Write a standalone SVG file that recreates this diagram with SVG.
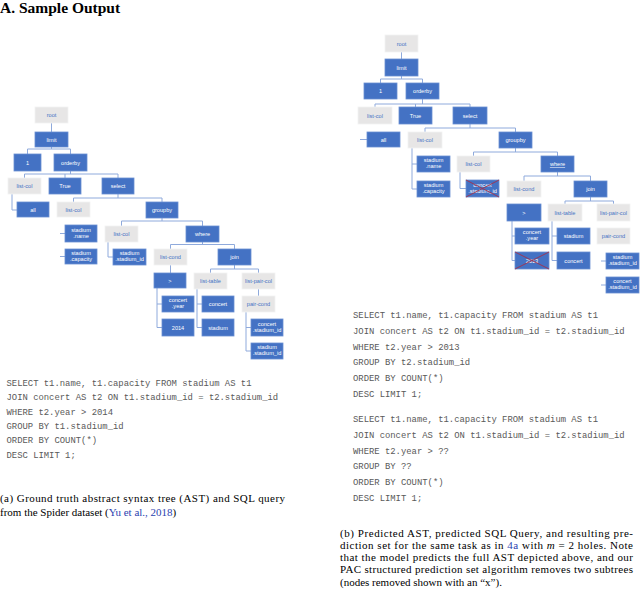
<svg xmlns="http://www.w3.org/2000/svg" width="640" height="589" viewBox="0 0 640 589">
<style>
.b{fill:#4472C4;stroke:#6A8FD3;stroke-width:0.8}
.g{fill:#E7E6E6;stroke:#F2F2F2;stroke-width:0.8}
.t{font-family:"Liberation Sans","DejaVu Sans",sans-serif;font-size:5.6px;text-anchor:middle}
.b+.t,.tw{fill:#FFFFFF}
.tg{fill:#4472C4}
.c{fill:none;stroke:#8FAADC;stroke-width:1}
.x{stroke:#A5324B;stroke-width:0.9;fill:none}
.sql{font-family:"Liberation Mono","DejaVu Sans Mono",monospace;font-size:8.9px;fill:#595959}
.cap{font-family:"Liberation Serif","Times New Roman",serif;font-size:11px;fill:#000}
.lnk{fill:#2B3FB0}
</style>
<rect width="640" height="589" fill="#FFFFFF"/>
<text x="0" y="13" font-family="Liberation Serif, serif" font-weight="bold" font-size="15.5" fill="#000">A. Sample Output</text>

<!-- LEFT TREE connectors -->
<g id="left-connectors">
<path class="c" d="M51.5,123V132"/>
<path class="c" d="M51.5,147V149M27.5,154V149H70.5V154"/>
<path class="c" d="M70.5,171V174M24.5,178V174H118V178M65,174V178"/>
<path class="c" d="M12,194V210H17"/>
<path class="c" d="M118,194V198M73.5,202V198H162V202"/>
<path class="c" d="M60,233.5H65M60,256.5H65"/>
<path class="c" d="M162,218V221M121.5,226V221H202.5V226"/>
<path class="c" d="M108,242V257H113"/>
<path class="c" d="M202.5,242V244.5M170.5,249V244.5H234.5V249"/>
<path class="c" d="M170.5,265V273"/>
<path class="c" d="M234.5,265V269M210.5,273V269H258.5V273"/>
<path class="c" d="M157,288V327.5M157,304H162M157,327.5H162"/>
<path class="c" d="M197,289V327.5M197,304H202M197,327.5H202"/>
<path class="c" d="M258.5,289V296"/>
<path class="c" d="M246,312V351M246,327.5H251M246,351H251"/>
</g>

<!-- LEFT TREE nodes -->
<g id="L_root"><rect class="g" x="35" y="107" width="33" height="16"/><text class="t tg" x="51.5" y="117">root</text></g>
<g id="L_limit"><rect class="b" x="35" y="132" width="33" height="15"/><text class="t tw" x="51.5" y="141.5">limit</text></g>
<g id="L_1"><rect class="b" x="14" y="154" width="27" height="17"/><text class="t tw" x="27.5" y="164.5">1</text></g>
<g id="L_orderby"><rect class="b" x="54" y="154" width="33" height="17"/><text class="t tw" x="70.5" y="164.5">orderby</text></g>
<g id="L_listcol1"><rect class="g" x="8" y="178" width="33" height="16"/><text class="t tg" x="24.5" y="188">list-col</text></g>
<g id="L_true"><rect class="b" x="49" y="178" width="32" height="16"/><text class="t tw" x="65" y="188">True</text></g>
<g id="L_select"><rect class="b" x="102" y="178" width="32" height="16"/><text class="t tw" x="118" y="188">select</text></g>
<g id="L_all"><rect class="b" x="17" y="202" width="32" height="15"/><text class="t tw" x="33" y="211.5">all</text></g>
<g id="L_listcol2"><rect class="g" x="57" y="202" width="33" height="15"/><text class="t tg" x="73.5" y="211.5">list-col</text></g>
<g id="L_groupby"><rect class="b" x="146" y="202" width="32" height="16"/><text class="t tw" x="162" y="212">groupby</text></g>
<g id="L_sname"><rect class="b" x="65" y="225" width="32" height="17"/><text class="t tw" x="81" y="231.5">stadium<tspan x="81" dy="6.3">.name</tspan></text></g>
<g id="L_scap"><rect class="b" x="65" y="249" width="32" height="15"/><text class="t tw" x="81" y="254.5">stadium<tspan x="81" dy="6.3">.capacity</tspan></text></g>
<g id="L_listcol3"><rect class="g" x="105" y="226" width="33" height="16"/><text class="t tg" x="121.5" y="236">list-col</text></g>
<g id="L_where"><rect class="b" x="186" y="226" width="33" height="16"/><text class="t tw" x="202.5" y="236">where</text></g>
<g id="L_ssid"><rect class="b" x="113" y="249" width="33" height="16"/><text class="t tw" x="129.5" y="255">stadium<tspan x="129.5" dy="6.3">.stadium_id</tspan></text></g>
<g id="L_listcond"><rect class="g" x="154" y="249" width="33" height="16"/><text class="t tg" x="170.5" y="259">list-cond</text></g>
<g id="L_join"><rect class="b" x="218" y="249" width="33" height="16"/><text class="t tw" x="234.5" y="259">join</text></g>
<g id="L_gt"><rect class="b" x="154" y="273" width="32" height="15"/><text class="t tw" x="170" y="282.5">&gt;</text></g>
<g id="L_listtable"><rect class="g" x="194" y="273" width="33" height="16"/><text class="t tg" x="210.5" y="283">list-table</text></g>
<g id="L_listpaircol"><rect class="g" x="242" y="273" width="33" height="16"/><text class="t tg" x="258.5" y="283">list-pair-col</text></g>
<g id="L_cyear"><rect class="b" x="162" y="296" width="32" height="16"/><text class="t tw" x="178" y="302">concert<tspan x="178" dy="6.3">.year</tspan></text></g>
<g id="L_2014"><rect class="b" x="162" y="319" width="32" height="17"/><text class="t tw" x="178" y="329.5">2014</text></g>
<g id="L_concert"><rect class="b" x="202" y="296" width="32" height="16"/><text class="t tw" x="218" y="306">concert</text></g>
<g id="L_stadium"><rect class="b" x="202" y="319" width="32" height="17"/><text class="t tw" x="218" y="329.5">stadium</text></g>
<g id="L_paircond"><rect class="g" x="242" y="296" width="33" height="16"/><text class="t tg" x="258.5" y="306">pair-cond</text></g>
<g id="L_csid"><rect class="b" x="251" y="319" width="32" height="17"/><text class="t tw" x="267" y="325.5">concert<tspan x="267" dy="6.3">.stadium_id</tspan></text></g>
<g id="L_ssid2"><rect class="b" x="251" y="343" width="32" height="16"/><text class="t tw" x="267" y="349">stadium<tspan x="267" dy="6.3">.stadium_id</tspan></text></g>

<!-- RIGHT TREE connectors -->
<g id="right-connectors">
<path class="c" d="M401.5,52V59"/>
<path class="c" d="M401.5,76V79M380.5,83V79H422.5V83"/>
<path class="c" d="M422.5,99V104M375,107V104H470V107M415.5,104V107"/>
<path class="c" d="M360,139.5H367"/>
<path class="c" d="M470,124V128M425,132V128H515.5V132"/>
<path class="c" d="M412,148V189H417M412,164H417"/>
<path class="c" d="M515.5,148V152M473.5,156V152H557.5V156"/>
<path class="c" d="M460,172V188.5H466"/>
<path class="c" d="M557.5,172V176M524,181V176H590.5V181"/>
<path class="c" d="M590.5,197V201M565,204V201H613.5V204"/>
<path class="c" d="M512,221V260.5M512,236H515M512,260.5H515"/>
<path class="c" d="M552,221V260.5M552,236H557M552,260.5H557"/>
<path class="c" d="M601,261H606M601,285H606"/>
</g>

<!-- RIGHT TREE nodes -->
<g id="R_root"><rect class="g" x="385" y="35" width="33" height="17"/><text class="t tg" x="401.5" y="45.5">root</text></g>
<g id="R_limit"><rect class="b" x="385" y="59" width="33" height="17"/><text class="t tw" x="401.5" y="69.5">limit</text></g>
<g id="R_1"><rect class="b" x="364" y="83" width="33" height="16"/><text class="t tw" x="380.5" y="93">1</text></g>
<g id="R_orderby"><rect class="b" x="406" y="83" width="33" height="16"/><text class="t tw" x="422.5" y="93">orderby</text></g>
<g id="R_listcol1"><rect class="g" x="358" y="107" width="34" height="17"/><text class="t tg" x="375" y="117.5">list-col</text></g>
<g id="R_true"><rect class="b" x="399" y="107" width="33" height="17"/><text class="t tw" x="415.5" y="117.5">True</text></g>
<g id="R_select"><rect class="b" x="453" y="107" width="34" height="17"/><text class="t tw" x="470" y="117.5">select</text></g>
<g id="R_all"><rect class="b" x="367" y="132" width="33" height="15"/><text class="t tw" x="383.5" y="141.5">all</text></g>
<g id="R_listcol2"><rect class="g" x="408" y="132" width="34" height="16"/><text class="t tg" x="425" y="142">list-col</text></g>
<g id="R_groupby"><rect class="b" x="499" y="132" width="33" height="16"/><text class="t tw" x="515.5" y="142">groupby</text></g>
<g id="R_sname"><rect class="b" x="417" y="156" width="33" height="16"/><text class="t tw" x="433.5" y="162">stadium<tspan x="433.5" dy="6.3">.name</tspan></text></g>
<g id="R_scap"><rect class="b" x="417" y="181" width="33" height="16"/><text class="t tw" x="433.5" y="187">stadium<tspan x="433.5" dy="6.3">.capacity</tspan></text></g>
<g id="R_listcol3"><rect class="g" x="457" y="156" width="33" height="16"/><text class="t tg" x="473.5" y="166">list-col</text></g>
<g id="R_where"><rect class="b" x="541" y="156" width="33" height="16"/><text class="t tw" x="557.5" y="166" text-decoration="underline">where</text></g>
<g id="R_csid_x"><rect class="b" x="466" y="180" width="33" height="17"/><text class="t tw" x="482.5" y="186.5">concert<tspan x="482.5" dy="6.3">.stadium_id</tspan></text><path class="x" d="M466,180L499,197M499,180L466,197"/></g>
<g id="R_listcond"><rect class="g" x="507" y="181" width="34" height="16"/><text class="t tg" x="524" y="191">list-cond</text></g>
<g id="R_join"><rect class="b" x="574" y="181" width="33" height="16"/><text class="t tw" x="590.5" y="191">join</text></g>
<g id="R_gt"><rect class="b" x="507" y="204" width="34" height="17"/><text class="t tw" x="524" y="214.5">&gt;</text></g>
<g id="R_listtable"><rect class="g" x="548" y="204" width="34" height="17"/><text class="t tg" x="565" y="214.5">list-table</text></g>
<g id="R_listpaircol"><rect class="g" x="597" y="204" width="33" height="17"/><text class="t tg" x="613.5" y="214.5">list-pair-col</text></g>
<g id="R_cyear"><rect class="b" x="515" y="228" width="34" height="16"/><text class="t tw" x="532" y="234">concert<tspan x="532" dy="6.3">.year</tspan></text></g>
<g id="R_2013"><rect class="b" x="515" y="252" width="34" height="17"/><text class="t tw" x="532" y="262.5">2013</text><path class="x" d="M515,252L549,269M549,252L515,269"/></g>
<g id="R_stadium"><rect class="b" x="557" y="228" width="33" height="16"/><text class="t tw" x="573.5" y="238">stadium</text></g>
<g id="R_concert"><rect class="b" x="557" y="252" width="33" height="17"/><text class="t tw" x="573.5" y="262.5">concert</text></g>
<g id="R_paircond"><rect class="g" x="597" y="228" width="33" height="16"/><text class="t tg" x="613.5" y="238">pair-cond</text></g>
<g id="R_ssid"><rect class="b" x="606" y="253" width="33" height="16"/><text class="t tw" x="622.5" y="259">stadium<tspan x="622.5" dy="6.3">.stadium_id</tspan></text></g>
<g id="R_csid"><rect class="b" x="606" y="277" width="33" height="16"/><text class="t tw" x="622.5" y="283">concert<tspan x="622.5" dy="6.3">.stadium_id</tspan></text></g>

<!-- SQL left -->
<g class="sql">
<text x="6.5" y="386">SELECT t1.name, t1.capacity FROM stadium AS t1</text>
<text x="6.5" y="400.3">JOIN concert AS t2 ON t1.stadium_id = t2.stadium_id</text>
<text x="6.5" y="414.6">WHERE t2.year &gt; 2014</text>
<text x="6.5" y="428.9">GROUP BY t1.stadium_id</text>
<text x="6.5" y="443.2">ORDER BY COUNT(*)</text>
<text x="6.5" y="457.5">DESC LIMIT 1;</text>
</g>
<!-- SQL right -->
<g class="sql">
<text x="353" y="318">SELECT t1.name, t1.capacity FROM stadium AS t1</text>
<text x="353" y="333.8">JOIN concert AS t2 ON t1.stadium_id = t2.stadium_id</text>
<text x="353" y="349.6">WHERE t2.year &gt; 2013</text>
<text x="353" y="365.4">GROUP BY t2.stadium_id</text>
<text x="353" y="381.2">ORDER BY COUNT(*)</text>
<text x="353" y="397">DESC LIMIT 1;</text>
<text x="353" y="422">SELECT t1.name, t1.capacity FROM stadium AS t1</text>
<text x="353" y="437.8">JOIN concert AS t2 ON t1.stadium_id = t2.stadium_id</text>
<text x="353" y="453.6">WHERE t2.year &gt; ??</text>
<text x="353" y="469.4">GROUP BY ??</text>
<text x="353" y="485.2">ORDER BY COUNT(*)</text>
<text x="353" y="501">DESC LIMIT 1;</text>
</g>

<!-- captions -->
<text class="cap" x="0" y="501.5" textLength="285" lengthAdjust="spacing">(a) Ground truth abstract syntax tree (AST) and SQL query</text>
<text class="cap" x="0" y="516">from the Spider dataset (<tspan class="lnk">Yu et al., 2018</tspan>)</text>

<text class="cap" x="340" y="536.5" textLength="293" lengthAdjust="spacing">(b) Predicted AST, predicted SQL Query, and resulting pre-</text>
<text class="cap" x="340" y="548.8" textLength="293" lengthAdjust="spacing">diction set for the same task as in <tspan class="lnk">4a</tspan> with <tspan font-style="italic">m</tspan> = 2 holes. Note</text>
<text class="cap" x="340" y="561.1" textLength="293" lengthAdjust="spacing">that the model predicts the full AST depicted above, and our</text>
<text class="cap" x="340" y="573.4" textLength="293" lengthAdjust="spacing">PAC structured prediction set algorithm removes two subtrees</text>
<text class="cap" x="340" y="585.7">(nodes removed shown with an “x”).</text>
</svg>
